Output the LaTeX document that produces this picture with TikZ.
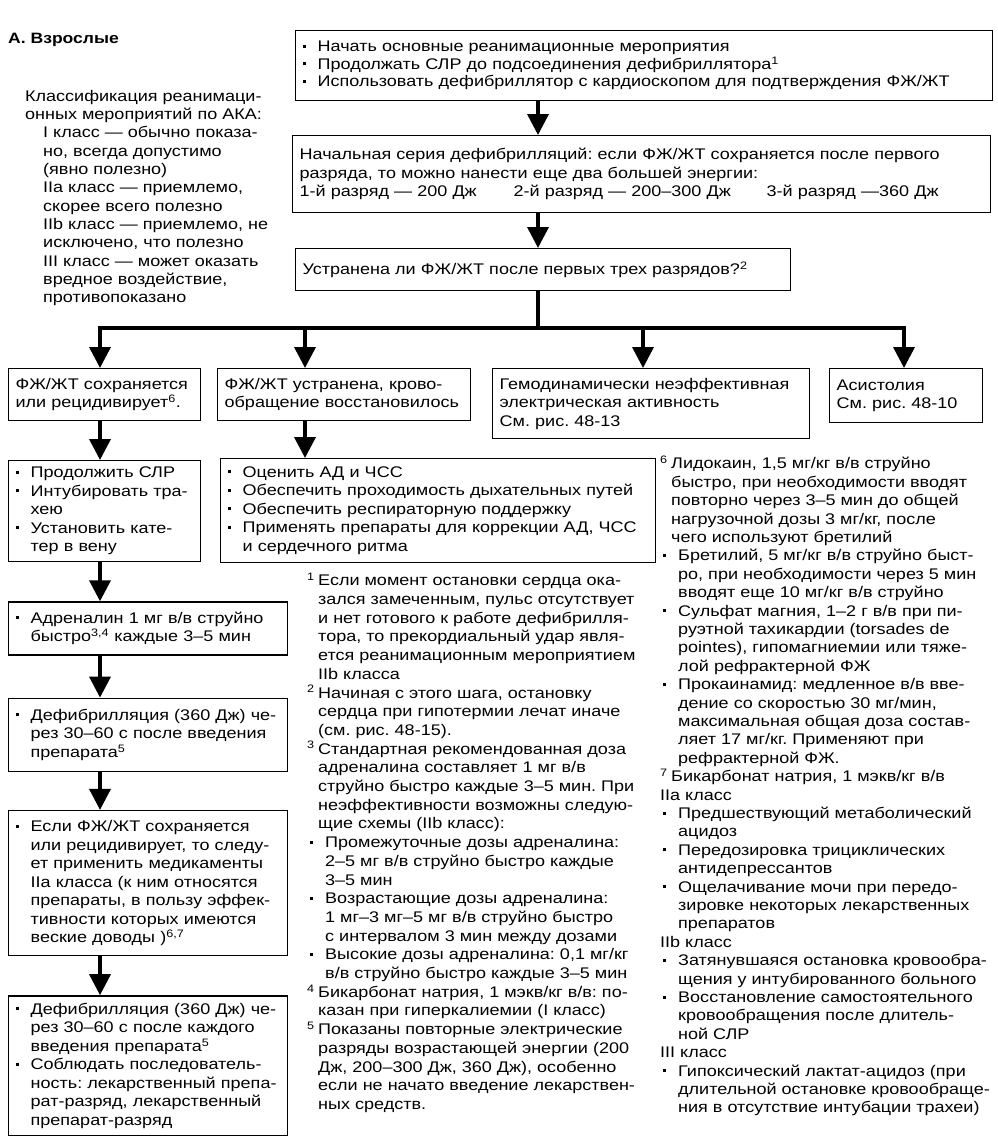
\documentclass[tikz,border=0pt]{standalone}
\usepackage{fontspec}
\setmainfont{Liberation Sans}[FakeStretch=1.17]
\usepackage{tikz}
\usetikzlibrary{positioning,arrows.meta}
\frenchspacing

\newcommand{\bul}{\makebox[15pt][l]{\rule[4pt]{3pt}{3pt}}}
\newcommand{\bulin}{\hspace*{15pt}}
\newcommand{\fnm}[1]{\makebox[11pt][l]{\textsuperscript{#1}}}
\newcommand{\fnin}{\hspace*{11pt}}
\newcommand{\nbul}{\hspace*{3pt}\makebox[15pt][l]{\rule[4pt]{3pt}{3pt}}}
\newcommand{\nbin}{\hspace*{18pt}}

\begin{document}
\begin{tikzpicture}[x=1pt, y=-1pt,
    every node/.style={font=\fontsize{15.4}{18.5}\selectfont},
    box/.style={draw, line width=1.3pt, anchor=north west, align=left, inner xsep=7pt, inner ysep=3pt},
    note/.style={anchor=north west, align=left, inner sep=0pt},
    arr/.style={line width=3.6pt, -{Triangle[width=21pt,length=21pt]}},
    trunk/.style={line width=3.6pt, line cap=rect}]
    \useasboundingbox (0,0) rectangle (997,1136);

    \node[anchor=west, inner sep=0pt, font=\bfseries\fontsize{15}{18}\selectfont] (title) at (8,40) {А. Взрослые};
    \node[note, font=\fontsize{15.4}{18.3}\selectfont] (aha) at (25,90) {Классификация реанимаци-\\онных мероприятий по АКА:\\
        \hspace*{18pt}I класс — обычно показа-\\\hspace*{18pt}но, всегда допустимо\\\hspace*{18pt}(явно полезно)\\
        \hspace*{18pt}IIa класс — приемлемо,\\\hspace*{18pt}скорее всего полезно\\
        \hspace*{18pt}IIb класс — приемлемо, не\\\hspace*{18pt}исключено, что полезно\\
        \hspace*{18pt}III класс — может оказать\\\hspace*{18pt}вредное воздействие,\\\hspace*{18pt}противопоказано};

    % main column
    \node[box, text width=683pt, minimum height=70pt, font=\fontsize{15.4}{17.5}\selectfont] (start) at (295,30)
        {\bul Начать основные реанимационные мероприятия\\\bul Продолжать СЛР до подсоединения дефибриллятора\textsuperscript{1}\\\bul Использовать дефибриллятор с кардиоскопом для подтверждения ФЖ/ЖТ};
    \node[box, text width=684pt, minimum height=77pt] (series) at (292,135)
        {Начальная серия дефибрилляций: если ФЖ/ЖТ сохраняется после первого\\разряда, то можно нанести еще два большей энергии:\\
        \makebox[214pt][l]{1-й разряд — 200 Дж}\makebox[253pt][l]{2-й разряд — 200–300 Дж}3-й разряд —360 Дж};
    \node[box, text width=481pt, minimum height=42pt] (check) at (295,248) {Устранена ли ФЖ/ЖТ после первых трех разрядов?\textsuperscript{2}};

    \coordinate (spine) at (538,0);
    \coordinate (b1) at (100,328);
    \coordinate (b2) at (305,328);
    \coordinate (b3) at (643,328);
    \coordinate (b4) at (904,328);

    % branches
    \node[box, text width=178pt, minimum height=52pt] (persist) at (8,368) {ФЖ/ЖТ сохраняется\\или рецидивирует\textsuperscript{6}.};
    \node[box, text width=239pt, minimum height=52pt] (restored) at (217,368) {ФЖ/ЖТ устранена, крово-\\обращение восстановилось};
    \node[box, text width=303pt, minimum height=70pt] (pea) at (492,368) {Гемодинамически неэффективная\\электрическая активность\\См. рис. 48-13};
    \node[box, text width=139pt, minimum height=54pt] (asys) at (829,368) {Асистолия\\См. рис. 48-10};

    \node[box, text width=178pt, minimum height=101pt] (cpr) at (8,460)
        {\bul Продолжить СЛР\\\bul Интубировать тра-\\\bulin хею\\\bul Установить кате-\\\bulin тер в вену};
    \node[box, text width=421pt, minimum height=104pt] (assess) at (220,458)
        {\bul Оценить АД и ЧСС\\\bul Обеспечить проходимость дыхательных путей\\\bul Обеспечить респираторную поддержку\\\bul Применять препараты для коррекции АД, ЧСС\\\bulin и сердечного ритма};

    % left column
    \node[box, text width=265pt, minimum height=53pt, below=39pt of cpr.south west, anchor=north west] (adren)
        {\bul Адреналин 1 мг в/в струйно\\\bulin быстро\textsuperscript{3,4} каждые 3–5 мин};
    \node[box, text width=265pt, minimum height=73pt, below=42pt of adren.south west, anchor=north west] (defib)
        {\bul Дефибрилляция (360 Дж) че-\\\bulin рез 30–60 с после введения\\\bulin препарата\textsuperscript{5}};
    \node[box, text width=265pt, minimum height=145pt, below=38pt of defib.south west, anchor=north west] (drugs)
        {\bul Если ФЖ/ЖТ сохраняется\\\bulin или рецидивирует, то следу-\\\bulin ет применить медикаменты\\\bulin IIa класса (к ним относятся\\\bulin препараты, в пользу эффек-\\\bulin тивности которых имеются\\\bulin веские доводы )\textsuperscript{6,7}};
    \node[box, text width=265pt, minimum height=140pt, below=39pt of drugs.south west, anchor=north west] (repeat)
        {\bul Дефибрилляция (360 Дж) че-\\\bulin рез 30–60 с после каждого\\\bulin введения препарата\textsuperscript{5}\\\bul Соблюдать последователь-\\\bulin ность: лекарственный препа-\\\bulin рат-разряд, лекарственный\\\bulin препарат-разряд};

    % footnotes
    \node[note, font=\fontsize{15.4}{18.7}\selectfont] (notesA) at (307,573)
        {\fnm{1}Если момент остановки сердца ока-\\\fnin зался замеченным, пульс отсутствует\\\fnin и нет готового к работе дефибрилля-\\\fnin тора, то прекордиальный удар явля-\\\fnin ется реанимационным мероприятием\\\fnin IIb класса\\
        \fnm{2}Начиная с этого шага, остановку\\\fnin сердца при гипотермии лечат иначе\\\fnin (см. рис. 48-15).\\
        \fnm{3}Стандартная рекомендованная доза\\\fnin адреналина составляет 1 мг в/в\\\fnin струйно быстро каждые 3–5 мин. При\\\fnin неэффективности возможны следую-\\\fnin щие схемы (IIb класс):\\
        \nbul Промежуточные дозы адреналина:\\\nbin 2–5 мг в/в струйно быстро каждые\\\nbin 3–5 мин\\
        \nbul Возрастающие дозы адреналина:\\\nbin 1 мг–3 мг–5 мг в/в струйно быстро\\\nbin с интервалом 3 мин между дозами\\
        \nbul Высокие дозы адреналина: 0,1 мг/кг\\\nbin в/в струйно быстро каждые 3–5 мин\\
        \fnm{4}Бикарбонат натрия, 1 мэкв/кг в/в: по-\\\fnin казан при гиперкалиемии (I класс)\\
        \fnm{5}Показаны повторные электрические\\\fnin разряды возрастающей энергии (200\\\fnin Дж, 200–300 Дж, 360 Дж), особенно\\\fnin если не начато введение лекарствен-\\\fnin ных средств.};
    \node[note, font=\fontsize{15.4}{18.4}\selectfont] (notesB) at (660,456)
        {\fnm{6}Лидокаин, 1,5 мг/кг в/в струйно\\\fnin быстро, при необходимости вводят\\\fnin повторно через 3–5 мин до общей\\\fnin нагрузочной дозы 3 мг/кг, после\\\fnin чего используют бретилий\\
        \nbul Бретилий, 5 мг/кг в/в струйно быст-\\\nbin ро, при необходимости через 5 мин\\\nbin вводят еще 10 мг/кг в/в струйно\\
        \nbul Сульфат магния, 1–2 г в/в при пи-\\\nbin руэтной тахикардии (torsades de\\\nbin pointes), гипомагниемии или тяже-\\\nbin лой рефрактерной ФЖ\\
        \nbul Прокаинамид: медленное в/в вве-\\\nbin дение со скоростью 30 мг/мин,\\\nbin максимальная общая доза состав-\\\nbin ляет 17 мг/кг. Применяют при\\\nbin рефрактерной ФЖ.\\
        \fnm{7}Бикарбонат натрия, 1 мэкв/кг в/в\\IIa класс\\
        \nbul Предшествующий метаболический\\\nbin ацидоз\\
        \nbul Передозировка трициклических\\\nbin антидепрессантов\\
        \nbul Ощелачивание мочи при передо-\\\nbin зировке некоторых лекарственных\\\nbin препаратов\\
        IIb класс\\
        \nbul Затянувшаяся остановка кровообра-\\\nbin щения у интубированного больного\\
        \nbul Восстановление самостоятельного\\\nbin кровообращения после длитель-\\\nbin ной СЛР\\
        III класс\\
        \nbul Гипоксический лактат-ацидоз (при\\\nbin длительной остановке кровообраще-\\\nbin ния в отсутствие интубации трахеи)};

    % connectors
    \draw[arr] (start.south -| spine) -- (series.north -| spine);
    \draw[arr] (series.south -| spine) -- (check.north -| spine);
    \draw[trunk] (check.south -| spine) -- (spine |- b1);
    \draw[trunk] (b1) -- (b4);
    \foreach \b/\n in {b1/persist, b2/restored, b3/pea, b4/asys}
        \draw[arr] (\b) -- (\b |- \n.north);
    \draw[arr] (persist.south -| b1) -- (cpr.north -| b1);
    \draw[arr] (restored.south -| b2) -- (assess.north -| b2);
    \draw[arr] (cpr.south -| b1) -- (adren.north -| b1);
    \draw[arr] (adren.south -| b1) -- (defib.north -| b1);
    \draw[arr] (defib.south -| b1) -- (drugs.north -| b1);
    \draw[arr] (drugs.south -| b1) -- (repeat.north -| b1);
\end{tikzpicture}
\end{document}
